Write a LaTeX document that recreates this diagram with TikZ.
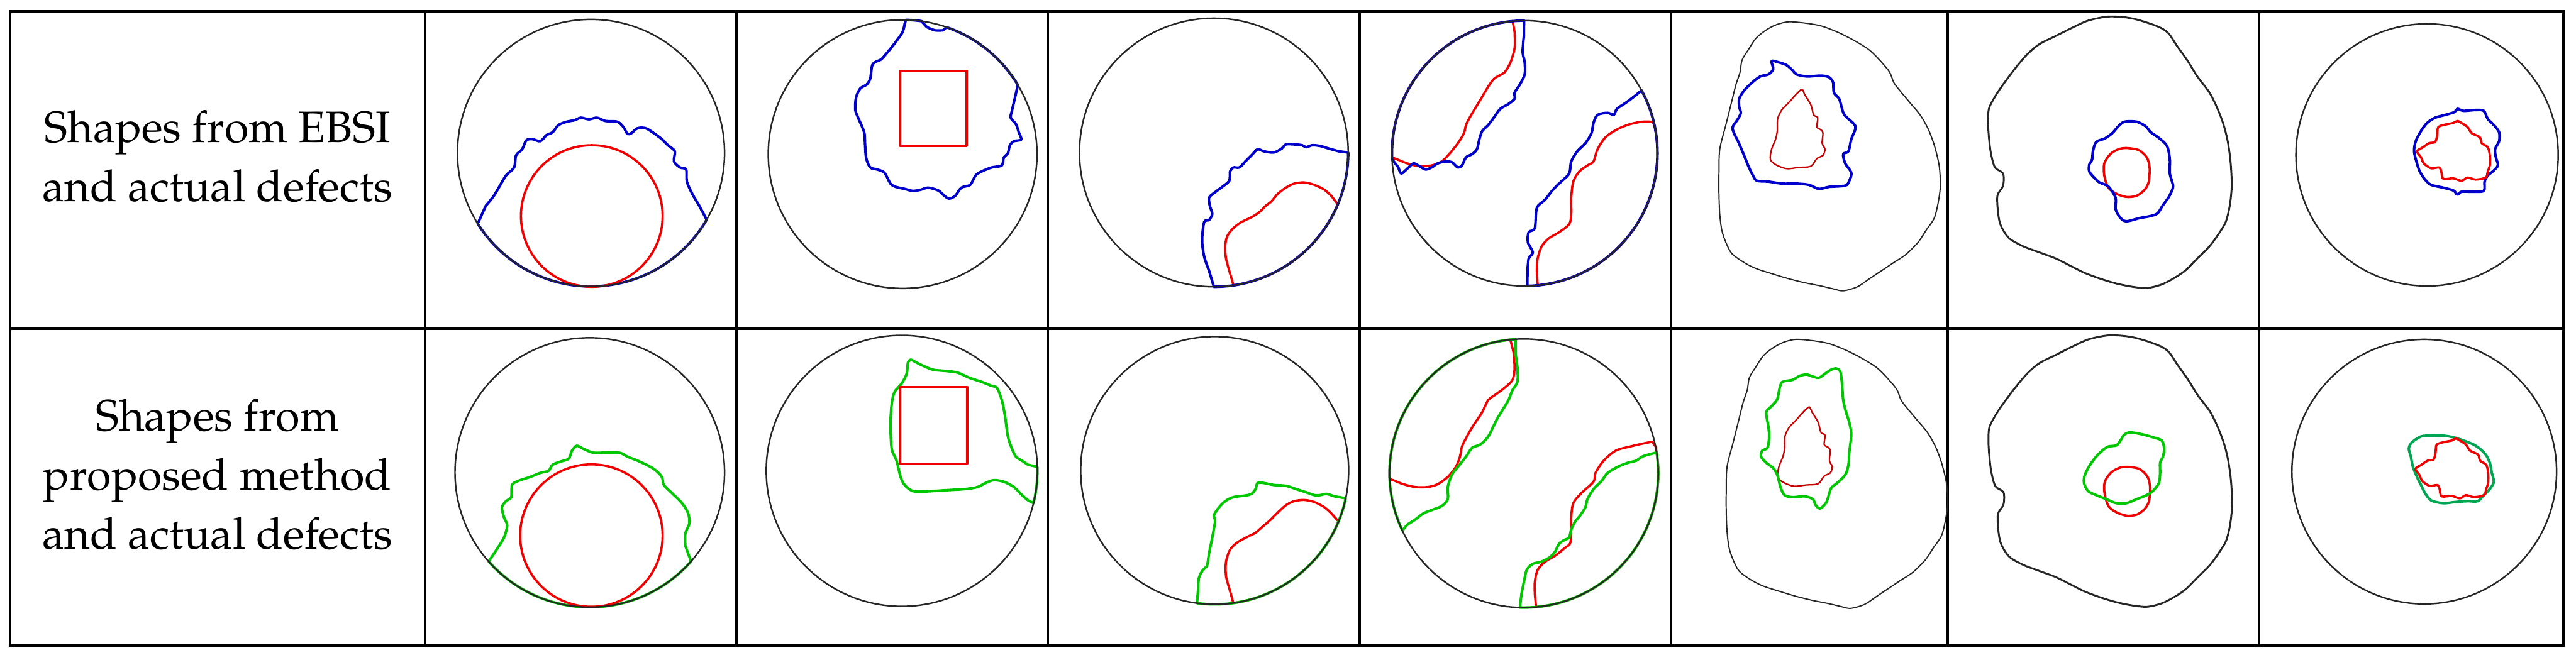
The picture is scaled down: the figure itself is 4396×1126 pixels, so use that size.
\documentclass[tikz,border=0pt]{standalone}
\usepackage{fontspec}
\setmainfont{TeX Gyre Pagella}
\definecolor{ebsiblue}{HTML}{0000CC}
\definecolor{ourgreen}{HTML}{00C800}
\definecolor{ourteal}{HTML}{00A651}
\definecolor{defred}{HTML}{F20000}
\definecolor{defdark}{HTML}{C80000}
\tikzset{
  tabframe/.style={line width=1.4pt},
  tabrule/.style={line width=1.1pt},
  specimen/.style={draw=black!85, line width=0.75pt},
  actual/.style={draw=defred, line width=1.1pt, line join=round},
  ebsi/.style={draw=ebsiblue, line width=1.25pt, line join=round},
  ours/.style={draw=ourgreen, line width=1.25pt, line join=round},
  wavy/.style={smooth, tension=0.5},
  wavyloop/.style={smooth cycle, tension=0.5},
  zoomed/.style={scale=0.69068},
  rowtext/.style={align=center, inner sep=0pt, anchor=north,
                  font=\fontsize{21.4}{28.7}\selectfont}
}
\begin{document}
\begin{tikzpicture}[x=0.01cm, y=-0.01cm]
  \useasboundingbox (0,0) rectangle (4396,1126);
  % table grid
  \draw[tabframe] (17,20) rectangle (4375,1102);
  \draw[tabframe] (17,561) -- (4375,561);
  \foreach \cx in {725,1257,1788,2320,2852,3324,3855}
    \draw[tabrule] (\cx,20) -- (\cx,1102);
  % row labels
  \node[rowtext] (ebsilabel) at (371,188) {Shapes from EBSI\\and actual defects};
  \node[rowtext] (ourlabel) at (371,680) {Shapes from\\proposed method\\and actual defects};

  % columns 1 and 2
  \begin{scope}[shift={(715,20)}, zoomed]
    % round defect at the bottom
    \draw[ebsi] ([shift={(425,349)}]148:330) -- plot[wavy] coordinates {(165,480) (185,455) (200,430) (215,405) (235,385) (240,355) (255,340) (265,318) (280,315) (300,320) (315,305) (330,298) (345,280) (365,272) (385,268) (400,262) (420,266) (440,262) (460,270) (490,272) (505,285) (515,302) (525,300) (540,288) (560,288) (580,300) (600,315) (615,330) (632,345) (630,370) (645,385) (660,390) (662,420) (675,450) (690,475)} -- ([shift={(425,349)}]30:330) arc[start angle=30, end angle=148, radius=330] -- cycle;
    \draw[actual] (427,505) circle[radius=175];
    \draw[specimen] (425,349) circle[radius=330];
    \draw[ours] ([shift={(422,1139)}]138.6:333) -- plot[wavy] coordinates {(195,1325) (210,1300) (218,1270) (210,1250) (205,1225) (215,1210) (228,1200) (230,1170) (245,1160) (275,1150) (300,1140) (320,1135) (330,1120) (350,1112) (370,1105) (378,1085) (390,1073) (405,1080) (430,1090) (460,1090) (495,1090) (515,1100) (545,1112) (580,1130) (600,1150) (605,1170) (625,1190) (650,1215) (665,1240) (668,1265) (658,1290) (658,1320)} -- ([shift={(422,1139)}]41.3:333) arc[start angle=41.3, end angle=138.6, radius=333] -- cycle;
    \draw[actual] (426,1295) circle[radius=176];
    \draw[specimen] (422,1139) circle[radius=333];
    % square defect
    \draw[ebsi] ([shift={(1195,352)}]-88.6:332) arc[start angle=-88.6, end angle=-82, radius=332] -- plot[wavy] coordinates {(1255,38) (1275,46) (1295,46)} -- ([shift={(1195,352)}]-71:332) arc[start angle=-71, end angle=-31, radius=332] -- plot[wavy] coordinates {(1472,215) (1465,245) (1462,262) (1475,278) (1482,298) (1488,316) (1470,320) (1460,330) (1455,350) (1445,360) (1440,380) (1415,385) (1390,395) (1375,405) (1362,428) (1340,435) (1325,455) (1310,462) (1298,455) (1283,442) (1258,435) (1240,440) (1220,443) (1200,438) (1178,433) (1165,425) (1150,398) (1132,390) (1115,385) (1105,362) (1102,325) (1100,298) (1085,262) (1078,242) (1080,212) (1090,190) (1106,180) (1115,165) (1120,132) (1132,122) (1142,118) (1162,95) (1180,72) (1195,50) (1200,30)} -- cycle;
    \draw[actual] (1188,146) rectangle (1353,332);
    \draw[specimen] (1195,352) circle[radius=332];
    \draw[ours] ([shift={(1193,1135)}]-1.7:335) -- plot[wavy] coordinates {(1505,1120) (1490,1110) (1475,1100) (1465,1080) (1455,1050) (1448,1000) (1440,960) (1428,930) (1415,925) (1390,915) (1360,905) (1330,892) (1300,888) (1270,885) (1245,875) (1225,865) (1215,860) (1208,868) (1205,895) (1192,920) (1175,940) (1168,970) (1165,1020) (1168,1080) (1180,1110) (1190,1150) (1200,1170) (1220,1185) (1250,1186) (1300,1183) (1350,1180) (1380,1175) (1400,1165) (1420,1158) (1445,1162) (1470,1175) (1490,1195) (1505,1208)} -- ([shift={(1193,1135)}]13.8:335) arc[start angle=13.8, end angle=-1.7, radius=335];
    \draw[actual] (1188,928) rectangle (1355,1117);
    \draw[specimen] (1193,1135) circle[radius=335];
  \end{scope}

  % columns 3 and 4
  \begin{scope}[shift={(1780,20)}, zoomed]
    % edge defect, lower right
    \draw[actual] ([shift={(422,348)}]81.6:332) -- plot[wavy] coordinates {(460,640) (452,610) (450,580) (455,555) (470,535) (490,520) (515,508) (535,495) (550,480) (565,468) (580,450) (600,435) (620,425) (645,422) (670,428) (695,440) (712,455)} -- ([shift={(422,348)}]22.7:332) arc[start angle=22.7, end angle=81.6, radius=332] -- cycle;
    \draw[ebsi] ([shift={(422,348)}]90:332) -- plot[wavy] coordinates {(410,640) (398,605) (393,565) (398,520) (410,515) (418,500) (412,480) (410,460) (420,450) (440,435) (460,418) (462,395) (470,385) (485,385) (500,370) (515,355) (530,340) (545,345) (570,348) (590,338) (600,328) (620,328) (640,330) (650,335) (665,330) (685,332) (705,338) (730,345)} -- ([shift={(422,348)}]0:332) arc[start angle=0, end angle=90, radius=332] -- cycle;
    \draw[specimen] (422,348) circle[radius=332];
    \draw[actual] ([shift={(424,1134)}]82:331) -- plot[wavy] coordinates {(460,1425) (452,1395) (452,1360) (462,1330) (480,1312) (505,1298) (525,1288) (540,1275) (560,1258) (580,1238) (600,1220) (620,1210) (645,1207) (670,1212) (695,1225) (712,1240)} -- ([shift={(424,1134)}]22.4:331) arc[start angle=22.4, end angle=82, radius=331] -- cycle;
    \draw[ours] ([shift={(424,1134)}]97.6:331) -- plot[wavy] coordinates {(383,1430) (385,1400) (395,1380) (405,1370) (410,1340) (418,1300) (425,1260) (422,1245) (435,1225) (450,1210) (470,1200) (500,1196) (515,1192) (525,1180) (530,1165) (545,1165) (570,1170) (600,1172) (625,1180) (650,1188) (670,1195) (685,1195) (700,1192) (720,1198)} -- ([shift={(424,1134)}]12:331) arc[start angle=12, end angle=97.6, radius=331] -- cycle;
    \draw[specimen] (424,1134) circle[radius=331];
    % two edge defects
    \draw[actual] ([shift={(1190,350)}]264.8:328) -- plot[wavy] coordinates {(1165,50) (1165,90) (1155,125) (1140,150) (1115,165) (1100,185) (1085,210) (1070,235) (1055,260) (1045,280) (1040,300) (1025,325) (1005,350) (985,370) (960,380) (930,382) (900,375) (875,365)} -- ([shift={(1190,350)}]178.2:328) arc[start angle=178.2, end angle=264.8, radius=328] -- cycle;
    \draw[actual] ([shift={(1190,350)}]84.4:328) -- plot[wavy] coordinates {(1220,640) (1222,610) (1232,580) (1250,560) (1275,545) (1300,525) (1305,500) (1305,460) (1310,420) (1325,395) (1345,380) (1360,370) (1370,340) (1390,310) (1420,290) (1450,278) (1480,272) (1505,272)} -- ([shift={(1190,350)}]-12.3:328) arc[start angle=-12.3, end angle=84.4, radius=328] -- cycle;
    \draw[ebsi] ([shift={(1190,350)}]269.7:328) -- plot[wavy] coordinates {(1188,60) (1185,100) (1190,125) (1190,155) (1178,180) (1165,200) (1165,215) (1150,228) (1130,240) (1115,260) (1100,280) (1085,295) (1078,315) (1072,340) (1060,352) (1045,360) (1035,380) (1025,385) (1010,372) (995,370) (975,375) (960,385) (945,390) (930,382) (915,375) (900,388) (885,400) (878,385)} -- ([shift={(1190,350)}]177.4:328) arc[start angle=177.4, end angle=269.7, radius=328] -- cycle;
    \draw[ebsi] ([shift={(1190,350)}]88.9:328) -- plot[wavy] coordinates {(1197,640) (1200,610) (1210,595) (1198,570) (1200,545) (1215,535) (1220,485) (1240,465) (1260,440) (1280,420) (1300,400) (1305,370) (1320,345) (1340,325) (1355,300) (1360,275) (1370,255) (1395,250) (1410,255) (1418,240) (1440,225) (1460,210)} -- ([shift={(1190,350)}]-28.3:328) arc[start angle=-28.3, end angle=88.9, radius=328] -- cycle;
    \draw[specimen] (1190,350) circle[radius=328];
    \draw[actual] ([shift={(1188,1141)}]264.2:332) -- plot[wavy] coordinates {(1162,840) (1165,880) (1160,910) (1140,930) (1120,945) (1100,960) (1085,990) (1065,1020) (1050,1045) (1035,1075) (1030,1100) (1020,1125) (1000,1150) (975,1168) (950,1175) (920,1175) (890,1168) (870,1160)} -- ([shift={(1188,1141)}]177.6:332) arc[start angle=177.6, end angle=264.2, radius=332] -- cycle;
    \draw[actual] ([shift={(1188,1141)}]84.8:332) -- plot[wavy] coordinates {(1215,1440) (1215,1410) (1222,1380) (1240,1360) (1265,1345) (1290,1325) (1302,1315) (1305,1290) (1305,1250) (1310,1215) (1330,1190) (1360,1162) (1365,1140) (1385,1110) (1415,1085) (1450,1075) (1480,1068) (1505,1063)} -- ([shift={(1188,1141)}]-11.5:332) arc[start angle=-11.5, end angle=84.8, radius=332] -- cycle;
    \draw[ours] ([shift={(1188,1141)}]266.5:332) -- plot[wavy] coordinates {(1168,850) (1172,880) (1172,915) (1160,935) (1150,960) (1135,985) (1120,1010) (1100,1050) (1080,1070) (1060,1078) (1045,1100) (1025,1125) (1010,1145) (1000,1175) (1000,1205) (985,1222) (960,1232) (940,1240) (920,1255) (900,1268)} -- ([shift={(1188,1141)}]154.8:332) arc[start angle=154.8, end angle=266.5, radius=332] -- cycle;
    \draw[ours] ([shift={(1188,1141)}]91.7:332) -- plot[wavy] coordinates {(1182,1440) (1188,1410) (1195,1380) (1210,1365) (1230,1360) (1250,1350) (1265,1335) (1275,1315) (1290,1305) (1300,1300) (1305,1280) (1315,1260) (1325,1248) (1340,1225) (1345,1205) (1360,1180) (1380,1160) (1395,1140) (1420,1125) (1445,1115) (1465,1110) (1480,1100) (1495,1095)} -- ([shift={(1188,1141)}]-8.9:332) arc[start angle=-8.9, end angle=91.7, radius=332] -- cycle;
    \draw[specimen] (1188,1141) circle[radius=332];
  \end{scope}

  % columns 5 and 6
  \begin{scope}[shift={(2845,20)}, zoomed]
    \foreach \sx/\sy in {0/0, 18/785} {
      \draw[specimen, line width=0.6pt, shift={(\sx,\sy)}] plot[wavyloop] coordinates {(300,25) (340,28) (380,35) (420,50) (460,70) (500,95) (530,125) (550,150) (560,175) (575,195) (600,225) (625,255) (645,290) (660,330) (672,380) (675,430) (670,470) (660,510) (640,540) (620,570) (590,600) (560,620) (530,640) (500,660) (470,680) (435,690) (410,685) (380,678) (340,670) (300,660) (260,648) (220,635) (190,620) (160,598) (145,570) (135,540) (130,500) (128,450) (128,400) (130,340) (145,280) (160,220) (170,180) (180,150) (185,120) (200,95) (220,65) (245,45) (270,32)};
      \draw[actual, draw=defdark, line width=0.7pt, shift={(\sx,\sy)}] plot[wavyloop] coordinates {(333,192) (340,205) (355,230) (362,255) (372,262) (370,285) (380,292) (385,300) (383,325) (390,340) (385,355) (370,363) (355,382) (325,385) (295,388) (268,378) (255,365) (258,340) (268,315) (272,295) (273,265) (283,243) (300,225) (318,205)};
    }
    \draw[ebsi] plot[wavyloop] coordinates {(258,122) (275,125) (295,132) (310,145) (320,155) (345,160) (380,158) (400,162) (410,175) (412,200) (425,215) (430,232) (438,255) (462,278) (465,290) (455,315) (448,345) (435,352) (440,375) (455,398) (450,418) (440,430) (400,433) (375,438) (350,428) (320,425) (285,425) (250,420) (222,418) (212,405) (200,380) (190,355) (175,320) (165,300) (162,285) (175,265) (182,250) (178,235) (178,215) (190,195) (210,175) (230,160) (250,155) (262,142)};
    \draw[ours] plot[wavyloop] coordinates {(418,882) (428,890) (432,920) (435,960) (442,990) (450,1015) (455,1045) (450,1090) (448,1120) (440,1145) (420,1165) (405,1178) (398,1200) (392,1215) (378,1228) (367,1220) (360,1205) (340,1198) (310,1200) (290,1195) (280,1175) (272,1145) (262,1128) (245,1115) (232,1100) (235,1085) (248,1078) (252,1050) (250,1025) (245,990) (258,975) (272,958) (278,930) (285,915) (310,910) (328,900) (345,897) (360,902) (375,905) (390,895) (405,885)};
    \foreach \sx/\sy in {0/0, 1/788} {
      \draw[specimen, line width=0.9pt, shift={(\sx,\sy)}] plot[wavyloop] coordinates {(1090,12) (1140,15) (1180,25) (1220,40) (1240,55) (1260,85) (1285,120) (1310,160) (1340,200) (1360,240) (1375,280) (1385,320) (1392,370) (1395,430) (1390,480) (1380,520) (1362,550) (1340,580) (1310,610) (1280,640) (1250,660) (1220,675) (1185,683) (1150,680) (1110,672) (1070,660) (1030,645) (1000,630) (960,610) (920,595) (880,580) (845,560) (825,530) (818,500) (816,455) (830,430) (830,400) (810,385) (800,350) (795,310) (793,275) (795,240) (810,210) (830,180) (860,140) (890,105) (920,80) (960,60) (1000,40) (1040,22)};
      \draw[actual, shift={(\sx,\sy)}] plot[wavyloop] coordinates {(1135,337) (1165,342) (1185,360) (1192,385) (1190,420) (1180,440) (1160,455) (1135,458) (1110,450) (1090,435) (1080,405) (1080,375) (1095,352) (1115,340)};
    }
    \draw[ebsi] plot[wavyloop] coordinates {(1130,272) (1160,272) (1182,283) (1195,298) (1215,312) (1235,332) (1242,365) (1242,400) (1250,432) (1240,457) (1225,478) (1212,498) (1195,505) (1168,510) (1135,518) (1120,510) (1108,488) (1108,460) (1090,432) (1068,422) (1055,410) (1043,395) (1043,378) (1050,365) (1052,345) (1060,322) (1082,313) (1100,300) (1115,283)};
    \draw[ours] plot[wavyloop] coordinates {(1145,1040) (1175,1045) (1200,1052) (1222,1060) (1228,1080) (1225,1100) (1218,1115) (1218,1140) (1215,1165) (1200,1185) (1185,1195) (1160,1205) (1135,1215) (1110,1215) (1085,1205) (1060,1195) (1040,1185) (1030,1165) (1032,1145) (1045,1120) (1060,1100) (1075,1085) (1090,1075) (1110,1072) (1120,1060) (1130,1045)};
  \end{scope}

  % column 7
  \begin{scope}[shift={(3313,20)}, zoomed]
    \draw[specimen] (1200,354) circle[radius=324];
    \draw[specimen] (1193,1137) circle[radius=327];
    \draw[ebsi] plot[wavyloop] coordinates {(1275,240) (1290,245) (1320,243) (1340,245) (1350,265) (1365,280) (1378,298) (1378,320) (1368,340) (1370,360) (1375,380) (1362,395) (1350,405) (1342,420) (1340,443) (1310,445) (1285,445) (1275,452) (1265,442) (1240,435) (1210,428) (1195,415) (1182,395) (1175,375) (1168,345) (1172,320) (1185,295) (1200,275) (1220,262) (1245,255) (1268,248)};
    \draw[ours, draw=ourteal] plot[wavyloop] coordinates {(1185,1050) (1210,1048) (1240,1048) (1265,1052) (1290,1060) (1315,1070) (1330,1080) (1345,1095) (1355,1115) (1360,1140) (1365,1162) (1355,1180) (1340,1195) (1325,1210) (1300,1210) (1270,1212) (1240,1215) (1210,1208) (1195,1190) (1185,1170) (1175,1150) (1165,1125) (1160,1100) (1155,1080) (1162,1065)};
    \foreach \sx/\sy in {0/0, -4/785}
      \draw[actual, shift={(\sx,\sy)}] plot[wavyloop] coordinates {(1275,270) (1285,275) (1300,285) (1310,300) (1330,310) (1335,325) (1350,335) (1355,355) (1355,380) (1350,395) (1345,410) (1320,415) (1300,410) (1285,418) (1265,412) (1240,413) (1235,395) (1230,385) (1210,387) (1192,375) (1185,360) (1175,345) (1190,335) (1205,325) (1220,322) (1225,305) (1228,285) (1250,278) (1265,275)};
  \end{scope}
\end{tikzpicture}
\end{document}
